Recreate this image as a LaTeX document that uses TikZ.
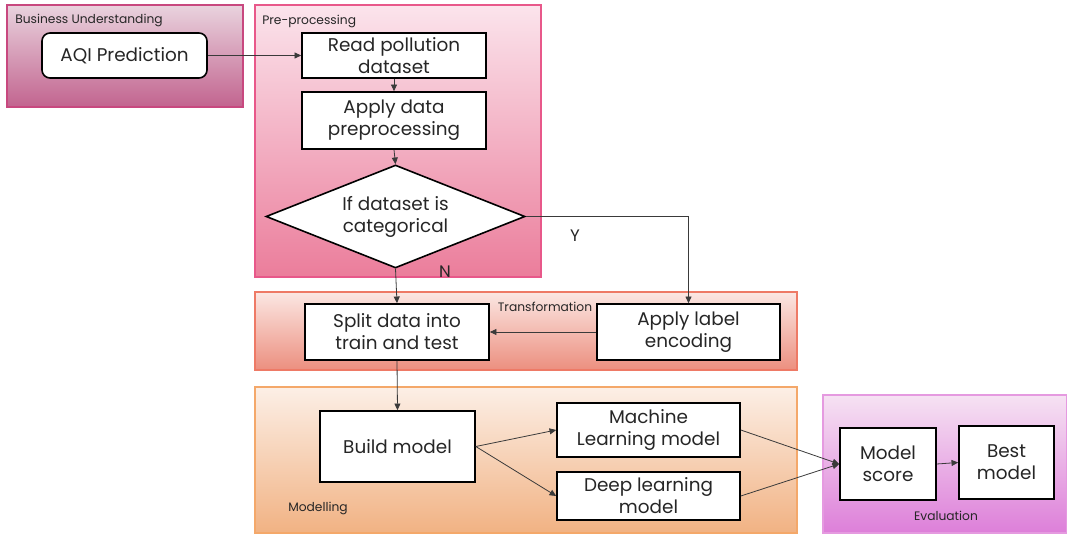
\documentclass[tikz,border=0pt]{standalone}
\usepackage{fontspec}
\setmainfont{Poppins}
\usetikzlibrary{arrows.meta,shapes.geometric}

\definecolor{bizTop}{HTML}{E9D3DE}
\definecolor{bizBot}{HTML}{C2648F}
\definecolor{bizLine}{HTML}{C8487F}
\definecolor{preTop}{HTML}{FBE4EC}
\definecolor{preBot}{HTML}{EB7D9B}
\definecolor{preLine}{HTML}{E8588A}
\definecolor{trnTop}{HTML}{FBE7E3}
\definecolor{trnBot}{HTML}{EC8F7F}
\definecolor{trnLine}{HTML}{EE7A66}
\definecolor{modTop}{HTML}{FCEFE6}
\definecolor{modBot}{HTML}{F1B283}
\definecolor{modLine}{HTML}{F4A86A}
\definecolor{evlTop}{HTML}{F6E2F3}
\definecolor{evlBot}{HTML}{DD7FD9}
\definecolor{evlLine}{HTML}{E59AE0}
\definecolor{ink}{HTML}{262626}
\definecolor{wire}{HTML}{3A3A3A}

\tikzset{
  stage/.style={line width=0.9pt},
  stagelabel/.style={font=\fontsize{9.2}{11}\selectfont, text=ink, inner sep=0pt},
  proc/.style={draw=black, line width=1.2pt, fill=white, align=center,
    inner sep=0pt, text=ink, font=\fontsize{13.8}{16.5}\selectfont},
  decision/.style={proc, diamond, aspect=2.5},
  flow/.style={draw=wire, line width=0.6pt, -{Triangle[length=5pt,width=4.5pt]}},
  answer/.style={font=\fontsize{12.5}{14}\selectfont, text=ink, inner sep=0pt}
}

\begin{document}
\begin{tikzpicture}[x=0.75pt, y=-0.75pt]
\useasboundingbox (0,0) rectangle (1067,534);

% stage panels
\path[stage, draw=bizLine, top color=bizTop, bottom color=bizBot] (7,5) rectangle (243,107);
\path[stage, draw=preLine, top color=preTop, bottom color=preBot] (255,5) rectangle (541,277);
\path[stage, draw=trnLine, top color=trnTop, bottom color=trnBot] (255,292) rectangle (797,370);
\path[stage, draw=modLine, top color=modTop, bottom color=modBot] (255,387) rectangle (797,533);
\path[stage, draw=evlLine, top color=evlTop, bottom color=evlBot] (823,395) rectangle (1066.5,533);

% stage titles
\node[stagelabel, anchor=west] (tBiz) at (15,20) {Business Understanding};
\node[stagelabel, anchor=west] (tPre) at (262,21) {Pre-processing};
\node[stagelabel] (tTrn) at (545,307) {Transformation};
\node[stagelabel, anchor=west] (tMod) at (288,508) {Modelling};
\node[stagelabel] (tEvl) at (946,516) {Evaluation};

% process steps
\node[proc, rounded corners=6pt, minimum width=123.75pt, minimum height=33.75pt] (aqi) at (124.5,55.5) {AQI Prediction};
\node[proc, minimum width=138pt, minimum height=33.75pt] (read) at (394,55.5) {Read pollution\\dataset};
\node[proc, minimum width=138pt, minimum height=42.75pt] (prep) at (394,120.5) {Apply data\\preprocessing};
\node[decision, minimum width=194.25pt, minimum height=77.25pt] (cat) at (395.5,216.5) {If dataset is\\categorical};
\node[proc, minimum width=138pt, minimum height=42pt] (split) at (397,332) {Split data into\\train and test};
\node[proc, minimum width=137.25pt, minimum height=42pt] (enc) at (688.5,332) {Apply label\\encoding};
\node[proc, minimum width=116.25pt, minimum height=53.25pt] (build) at (397.5,446.5) {Build model};
\node[proc, minimum width=137.25pt, minimum height=40.5pt] (ml) at (648.5,430) {Machine\\Learning model};
\node[proc, minimum width=137.25pt, minimum height=36pt] (dl) at (648.5,496) {Deep learning\\model};
\node[proc, minimum width=72pt, minimum height=54pt] (score) at (888,464) {Model\\score};
\node[proc, minimum width=71.25pt, minimum height=54.75pt] (best) at (1006.5,462.5) {Best\\model};

% branch labels
\node[answer] (no) at (445,272) {N};
\node[answer] (yes) at (575,236) {Y};

% connectors
\draw[flow] (aqi.east) -- (read.west);
\draw[flow] (read.south) -- (prep.north);
\draw[flow] (prep.south) -- (cat.north);
\draw[flow] (cat.east) -| (enc.north);
\draw[flow] (cat.south) -- (split.north);
\draw[flow] (enc.west) -- (split.east);
\draw[flow] (split.south) -- (build.north);
\draw[flow] (build.east) -- (ml.west);
\draw[flow] (build.east) -- (dl.west);
\draw[flow] (ml.east) -- (score.west);
\draw[flow] (dl.east) -- (score.west);
\draw[flow] (score.east) -- (best.west);
\end{tikzpicture}
\end{document}
